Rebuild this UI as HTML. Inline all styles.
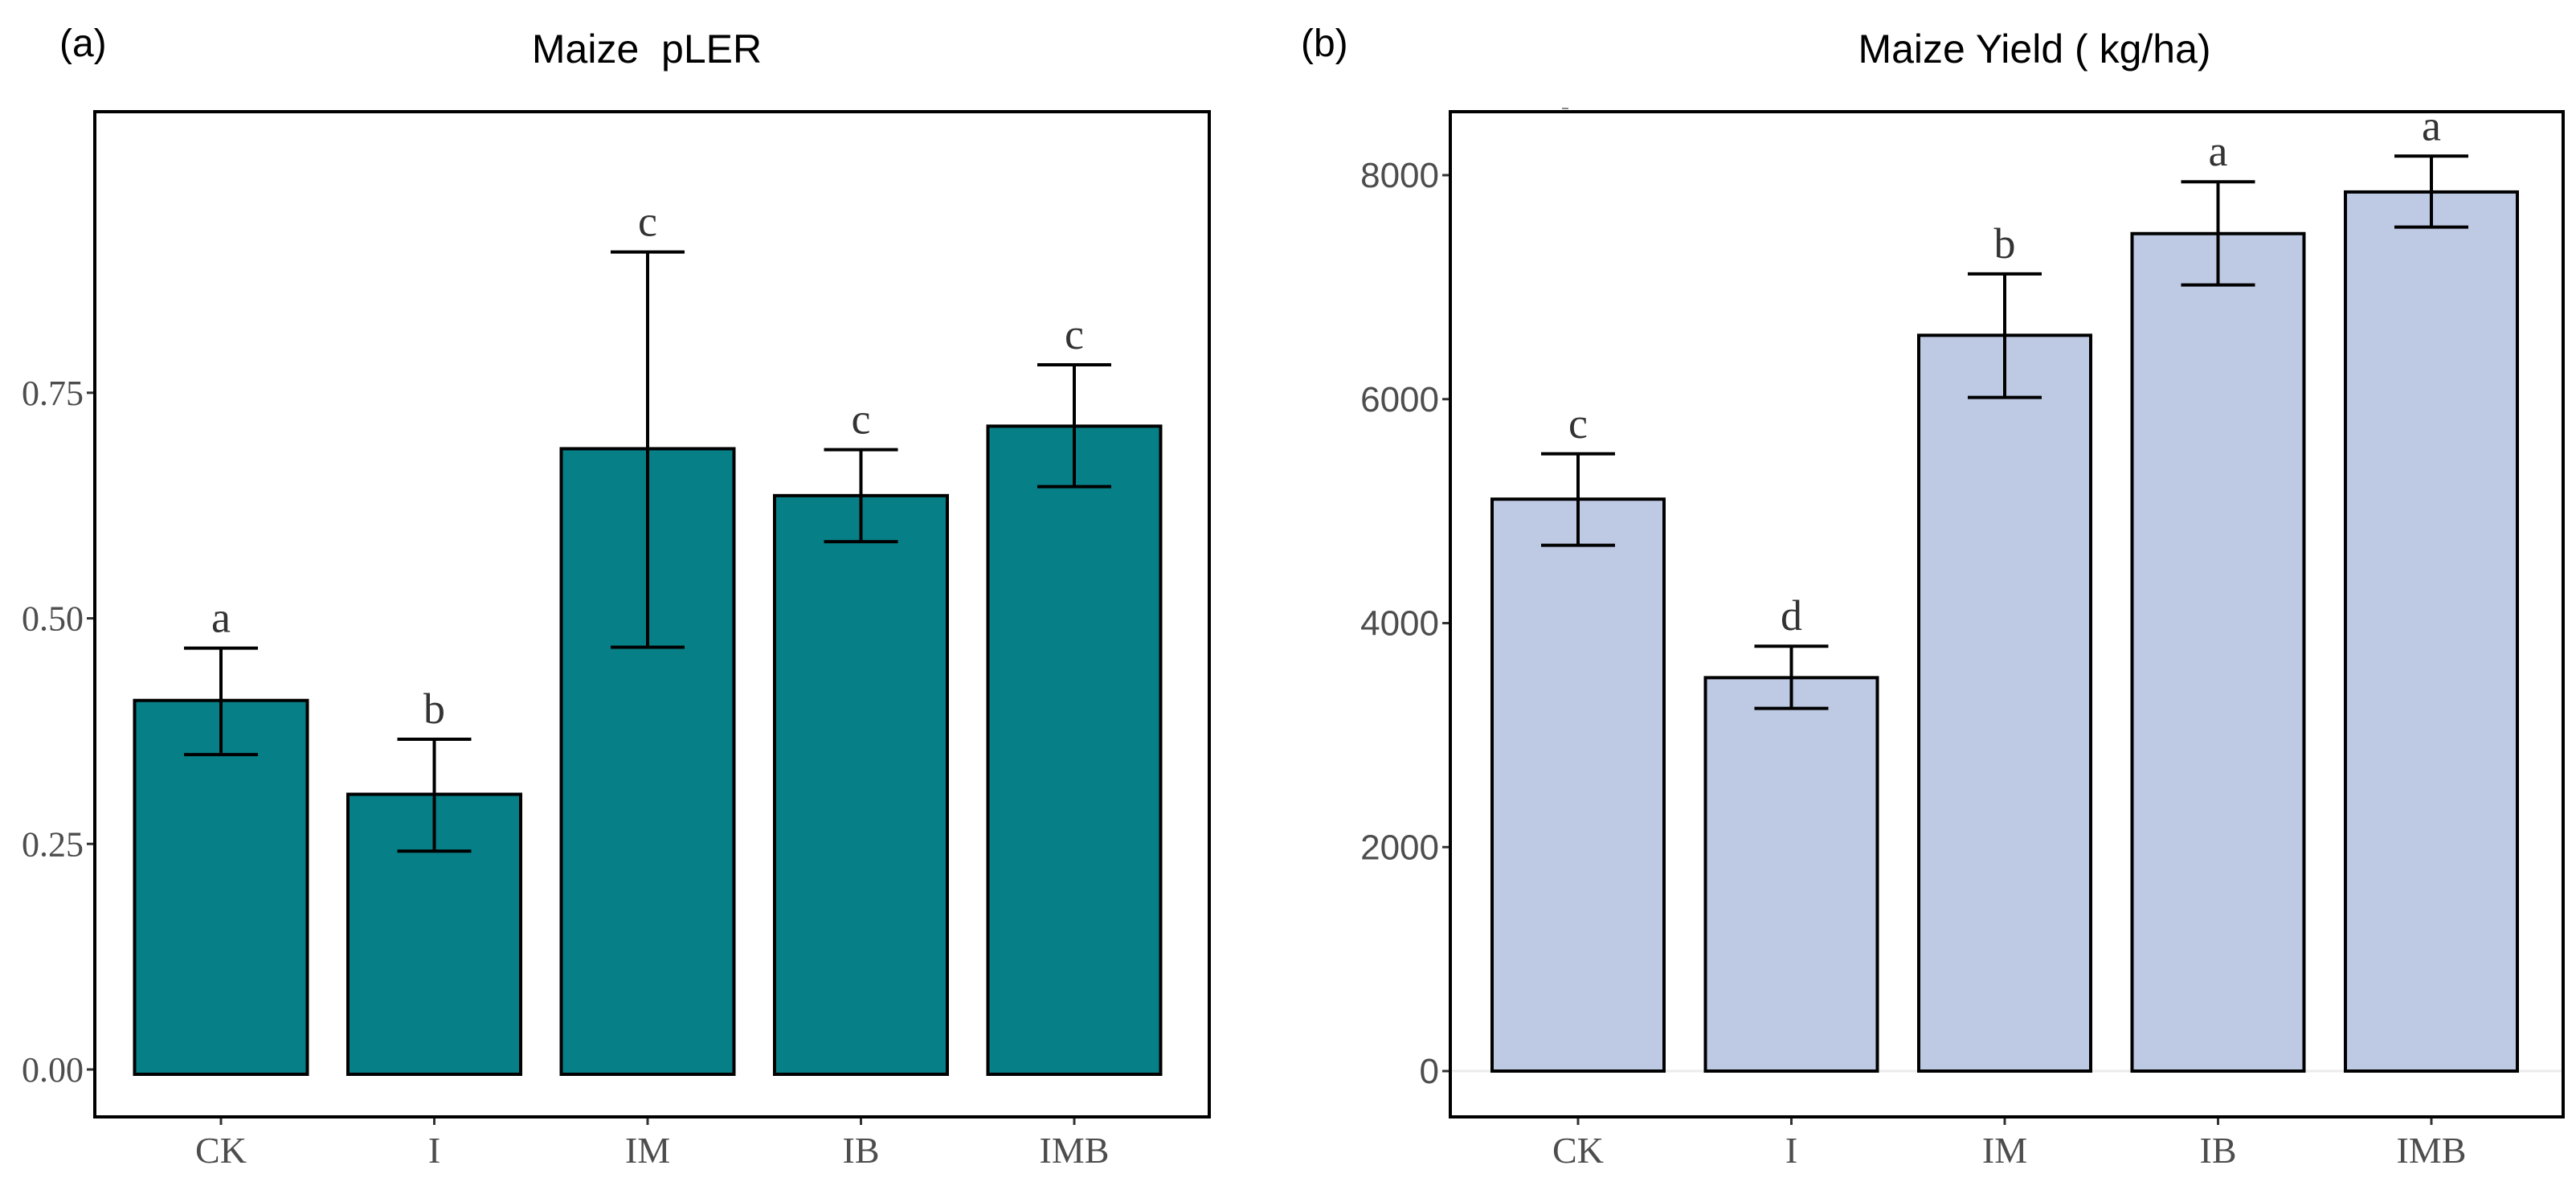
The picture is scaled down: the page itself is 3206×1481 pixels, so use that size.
<!DOCTYPE html>
<html><head><meta charset="utf-8"><style>body{margin:0;background:#fff;overflow:hidden}svg{display:block}</style></head>
<body>
<svg id="c" xmlns="http://www.w3.org/2000/svg" width="3206" height="1481" viewBox="0 0 3206 1481">
<rect width="3206" height="1481" fill="#fff"/>
<text x="74" y="70" font-family="Liberation Sans, sans-serif" font-size="48">(a)</text>
<text x="805" y="78" text-anchor="middle" font-family="Liberation Sans, sans-serif" font-size="50">Maize&#160; pLER</text>
<text x="1619" y="70" font-family="Liberation Sans, sans-serif" font-size="48">(b)</text>
<text x="2532" y="78" text-anchor="middle" font-family="Liberation Sans, sans-serif" font-size="50">Maize Yield ( kg/ha)</text>
<line x1="1944" y1="135" x2="1952" y2="135" stroke="#888" stroke-width="2"/>
</svg>
<script>
const categories = ["CK","I","IM","IB","IMB"];
const plerValues = [0.409,0.305,0.688,0.636,0.713];
const plerHigh = [0.467,0.366,0.906,0.687,0.781];
const plerLow = [0.349,0.242,0.468,0.585,0.646];
const plerLetters = ["a","b","c","c","c"];
const plerTicks = [0,0.25,0.5,0.75];
const plerTickLabels = ["0.00","0.25","0.50","0.75"];
const yieldValues = [5107,3513,6570,7478,7850];
const yieldHigh = [5512,3794,7118,7941,8170];
const yieldLow = [4695,3239,6015,7020,7536];
const yieldLetters = ["c","d","b","a","a"];
const yieldTicks = [0,2000,4000,6000,8000];
const yieldTickLabels = ["0","2000","4000","6000","8000"];

const NS="http://www.w3.org/2000/svg";
const svg=document.getElementById('c');
function mk(tag,attrs,parent){const e=document.createElementNS(NS,tag);for(const k in attrs)e.setAttribute(k,attrs[k]);(parent||svg).appendChild(e);return e;}

function panel(o){
  const g=mk('g',{});
  
  
  const y=v=>o.y0-(v-o.vmin)*o.scale;
  const x=i=>o.xc0+i*o.step;
  if(o.zeroLine){const zl=mk('line',{x1:o.left,x2:o.right,y1:y(0),y2:y(0),stroke:'#ebebeb','stroke-width':3},g);
    
    }
  o.values.forEach((v,i)=>{
    const b=mk('rect',{x:x(i)-o.bw/2,y:y(v),width:o.bw,height:y(0)-y(v)+o.barExtra,fill:o.fill,stroke:'#000','stroke-width':4},g);
    
    
    const e=mk('path',{d:`M${x(i)} ${y(o.hi[i])}V${y(o.lo[i])}M${x(i)-46} ${y(o.hi[i])}h92M${x(i)-46} ${y(o.lo[i])}h92`,stroke:'#000','stroke-width':4,fill:'none'},g);
    
    
    const t=mk('text',{x:x(i),y:y(o.hi[i])-20,'text-anchor':'middle','font-family':'Liberation Serif, serif','font-size':54,fill:'#333'},g);
    t.textContent=o.letters[i];
    
    
    const tk=mk('line',{x1:x(i),x2:x(i),y1:o.bottom,y2:o.bottom+10,stroke:'#333','stroke-width':3},g);
    
    
    const xl=mk('text',{x:x(i),y:o.bottom+57,'text-anchor':'middle','font-family':'Liberation Serif, serif','font-size':46,fill:'#4d4d4d'},g);
    xl.textContent=categories[i];
    
    
  });
  o.ticks.forEach((v,i)=>{
    const tk=mk('line',{x1:o.left-10,x2:o.left,y1:y(v),y2:y(v),stroke:'#333','stroke-width':3},g);
    
    
    const tl=mk('text',{x:o.left-14,y:y(v)+15,'text-anchor':'end','font-family':o.tickFont,'font-size':o.tickSize,fill:'#4d4d4d'},g);
    tl.textContent=o.tickLabels[i];
    
    
  });
  const fr=mk('rect',{x:o.left,y:o.top,width:o.right-o.left,height:o.bottom-o.top,fill:'none',stroke:'#000','stroke-width':4},g);
  
  
}
panel({name:'panel-a-pler',left:118,right:1505,top:139,bottom:1390,y0:1331,vmin:0,scale:1122.9,xc0:275,step:265.5,bw:215,
  values:plerValues,hi:plerHigh,lo:plerLow,letters:plerLetters,ticks:plerTicks,tickLabels:plerTickLabels,
  fill:'#077f86',tickFont:'Liberation Serif, serif',tickSize:44,barExtra:6,zeroLine:false});
panel({name:'panel-b-yield',left:1805,right:3190,top:139,bottom:1390,y0:1333,vmin:0,scale:1115/8000,xc0:1964,step:265.5,bw:214,
  values:yieldValues,hi:yieldHigh,lo:yieldLow,letters:yieldLetters,ticks:yieldTicks,tickLabels:yieldTickLabels,
  fill:'#bec9e4',tickFont:'Liberation Sans, sans-serif',tickSize:44,barExtra:0,zeroLine:true});
</script>
</body></html>
